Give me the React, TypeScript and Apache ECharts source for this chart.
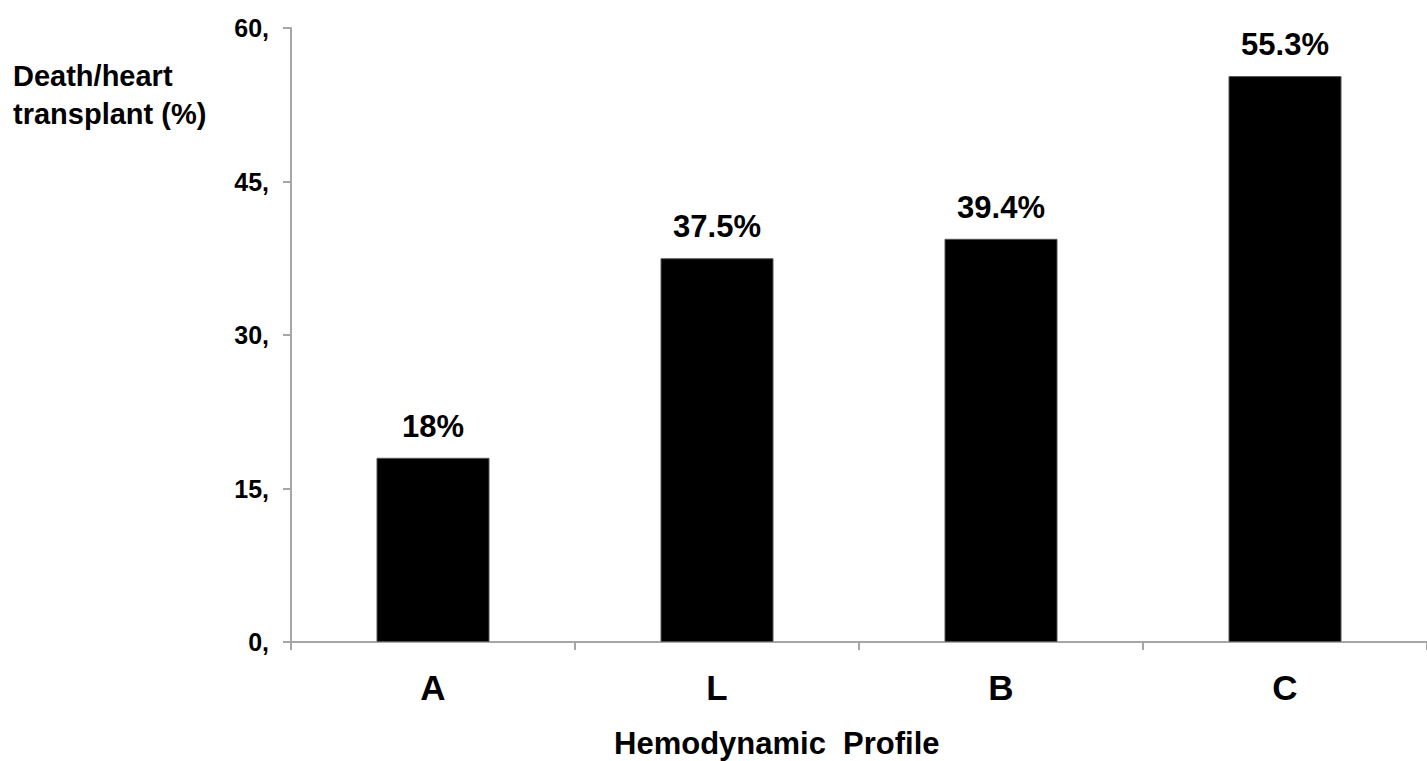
import React, { useEffect, useRef } from "react";
import * as echarts from "echarts";

const categories = ["A", "L", "B", "C"];
const values = [18, 37.5, 39.4, 55.3];
const valueLabels = ["18%", "37.5%", "39.4%", "55.3%"];
const yTicks = [0, 15, 30, 45, 60];
const yTitle = "Death/heart\ntransplant (%)";
const xTitle = "Hemodynamic  Profile";

const FONT = "'Liberation Sans', Arial, sans-serif";

export default function App() {
  const ref = useRef<HTMLDivElement>(null);
  useEffect(() => {
    if (!ref.current) return;
    const chart = echarts.init(ref.current, undefined, { renderer: "svg" });
    chart.setOption({
      animation: false,
      backgroundColor: "#ffffff",
      grid: { left: 291, top: 28, width: 1143, height: 614, containLabel: false },
      xAxis: {
        type: "category",
        data: categories,
        axisLine: { lineStyle: { color: "#a6a6a6", width: 2 } },
        axisTick: { show: true, length: 8, lineStyle: { color: "#a6a6a6", width: 2 } },
        axisLabel: { fontFamily: FONT, fontWeight: "bold", fontSize: 35, color: "#000", margin: 28 },
      },
      yAxis: {
        type: "value",
        min: yTicks[0],
        max: yTicks[yTicks.length - 1],
        interval: yTicks[1] - yTicks[0],
        splitLine: { show: false },
        axisLine: { show: true, lineStyle: { color: "#a6a6a6", width: 2 } },
        axisTick: { show: true, length: 8, lineStyle: { color: "#a6a6a6", width: 2 } },
        axisLabel: {
          fontFamily: FONT, fontWeight: "bold", fontSize: 25, color: "#000", margin: 22,
          formatter: (v: number) => `${v},`,
        },
      },
      graphic: [
        {
          type: "text", left: 13, top: 57,
          style: { text: yTitle, fontFamily: FONT, fontWeight: "bold", fontSize: 29, fill: "#000", lineHeight: 38 },
        },
        {
          type: "text", left: 614, top: 728,
          style: { text: xTitle, fontFamily: FONT, fontWeight: "bold", fontSize: 31, fill: "#000" },
        },
      ],
      series: [
        {
          type: "bar",
          data: values,
          barWidth: 113,
          itemStyle: { color: "#000", borderColor: "#555", borderWidth: 1 },
          label: {
            show: true, position: "top", distance: 16,
            fontFamily: FONT, fontWeight: "bold", fontSize: 31, color: "#000",
            formatter: (p: any) => valueLabels[p.dataIndex],
          },
        },
      ],
    });
    return () => chart.dispose();
  }, []);
  return <div ref={ref} style={{ width: 1427, height: 761, position: "absolute", left: 0, top: 0 }} />;
}
